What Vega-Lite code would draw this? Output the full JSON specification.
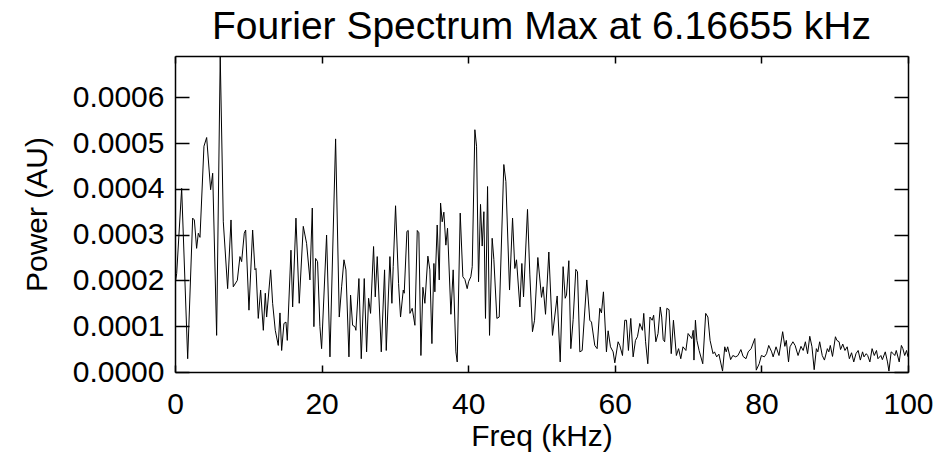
{
  "$schema": "https://vega.github.io/schema/vega-lite/v6.json",
  "width": 733,
  "height": 316,
  "autosize": "none",
  "padding": {"left": 175, "top": 56, "right": 44, "bottom": 81},
  "background": "white",
  "title": {"text": "Fourier Spectrum Max at 6.16655 kHz", "font": "Liberation Sans", "fontSize": 39, "fontWeight": "normal", "color": "black", "anchor": "middle", "offset": 8},
  "config": {"view": {"stroke": null}},
  "data": {"values": [
    {"f":0,"p":0.000190},{"f":0.23,"p":0.000215},{"f":0.91,"p":0.000401},{"f":1.73,"p":0.000029},{"f":2.41,"p":0.000336},{"f":2.64,"p":0.000332},{"f":2.95,"p":0.000270},{"f":3.18,"p":0.000303},{"f":3.41,"p":0.000294},{"f":3.95,"p":0.000493},{"f":4.32,"p":0.000512},{"f":4.86,"p":0.000398},{"f":5.14,"p":0.000434},{"f":5.68,"p":0.000080},{"f":6.17,"p":0.000690},{"f":6.59,"p":0.000328},{"f":7.18,"p":0.000182},{"f":7.64,"p":0.000332},{"f":7.95,"p":0.000186},{"f":8.5,"p":0.000200},{"f":8.86,"p":0.000252},{"f":9.09,"p":0.000241},{"f":9.45,"p":0.000303},{"f":9.64,"p":0.000310},{"f":10.09,"p":0.000135},{"f":10.59,"p":0.000310},{"f":10.91,"p":0.000223},{"f":11.05,"p":0.000226},{"f":11.36,"p":0.000117},{"f":11.68,"p":0.000179},{"f":12.05,"p":0.000091},{"f":12.32,"p":0.000172},{"f":12.5,"p":0.000120},{"f":13.05,"p":0.000223},{"f":13.32,"p":0.000150},{"f":13.68,"p":0.000091},{"f":14.09,"p":0.000058},{"f":14.32,"p":0.000129},{"f":14.55,"p":0.000047},{"f":14.86,"p":0.000106},{"f":15.14,"p":0.000109},{"f":15.32,"p":0.000069},{"f":15.82,"p":0.000266},{"f":16.05,"p":0.000142},{"f":16.5,"p":0.000336},{"f":16.95,"p":0.000150},{"f":17.5,"p":0.000318},{"f":17.95,"p":0.000281},{"f":18.41,"p":0.000201},{"f":18.73,"p":0.000358},{"f":18.95,"p":0.000099},{"f":19.18,"p":0.000248},{"f":19.45,"p":0.000241},{"f":19.77,"p":0.000099},{"f":20.0,"p":0.000051},{"f":20.68,"p":0.000299},{"f":21.14,"p":0.000033},{"f":21.91,"p":0.000509},{"f":22.41,"p":0.000120},{"f":22.73,"p":0.000186},{"f":23.05,"p":0.000245},{"f":23.32,"p":0.000223},{"f":23.73,"p":0.000033},{"f":23.95,"p":0.000168},{"f":24.23,"p":0.000102},{"f":24.55,"p":0.000099},{"f":24.68,"p":0.000091},{"f":25.09,"p":0.000204},{"f":25.41,"p":0.000029},{"f":25.82,"p":0.000204},{"f":26.14,"p":0.000044},{"f":26.41,"p":0.000161},{"f":26.68,"p":0.000128},{"f":27.09,"p":0.000274},{"f":27.32,"p":0.000164},{"f":27.59,"p":0.000252},{"f":28.14,"p":0.000044},{"f":28.59,"p":0.000223},{"f":28.82,"p":0.000047},{"f":29.32,"p":0.000252},{"f":29.59,"p":0.000150},{"f":29.77,"p":0.000230},{"f":30.09,"p":0.000363},{"f":30.5,"p":0.000193},{"f":30.77,"p":0.000120},{"f":31.14,"p":0.000179},{"f":31.27,"p":0.000172},{"f":31.64,"p":0.000307},{"f":31.82,"p":0.000309},{"f":32.05,"p":0.000128},{"f":32.36,"p":0.000139},{"f":32.73,"p":0.000102},{"f":33.05,"p":0.000309},{"f":33.27,"p":0.000304},{"f":33.55,"p":0.000036},{"f":33.82,"p":0.000185},{"f":34.09,"p":0.000150},{"f":34.5,"p":0.000253},{"f":34.77,"p":0.000223},{"f":35.05,"p":0.000062},{"f":35.32,"p":0.000237},{"f":35.45,"p":0.000175},{"f":35.77,"p":0.000321},{"f":36.05,"p":0.000201},{"f":36.23,"p":0.000369},{"f":36.45,"p":0.000328},{"f":36.68,"p":0.000349},{"f":36.95,"p":0.000277},{"f":37.18,"p":0.000314},{"f":37.64,"p":0.000126},{"f":37.95,"p":0.000223},{"f":38.32,"p":0.000044},{"f":38.5,"p":0.000022},{"f":38.91,"p":0.000347},{"f":39.27,"p":0.000208},{"f":39.55,"p":0.000202},{"f":39.86,"p":0.000182},{"f":40.05,"p":0.000197},{"f":40.36,"p":0.000208},{"f":40.55,"p":0.000230},{"f":40.91,"p":0.000529},{"f":41.14,"p":0.000493},{"f":41.41,"p":0.000197},{"f":41.68,"p":0.000366},{"f":41.91,"p":0.000275},{"f":42.14,"p":0.000350},{"f":42.36,"p":0.000117},{"f":42.64,"p":0.000405},{"f":42.91,"p":0.000080},{"f":43.27,"p":0.000292},{"f":43.5,"p":0.000246},{"f":43.91,"p":0.000117},{"f":44.23,"p":0.000120},{"f":44.86,"p":0.000453},{"f":45.14,"p":0.000416},{"f":45.64,"p":0.000179},{"f":46.05,"p":0.000336},{"f":46.36,"p":0.000226},{"f":46.59,"p":0.000245},{"f":47.05,"p":0.000142},{"f":47.32,"p":0.000237},{"f":47.55,"p":0.000164},{"f":48.09,"p":0.000355},{"f":48.41,"p":0.000212},{"f":48.77,"p":0.000088},{"f":49.05,"p":0.000113},{"f":49.5,"p":0.000250},{"f":50.0,"p":0.000163},{"f":50.23,"p":0.000186},{"f":50.55,"p":0.000126},{"f":51.0,"p":0.000262},{"f":51.5,"p":0.000080},{"f":52.14,"p":0.000166},{"f":52.55,"p":0.000022},{"f":52.95,"p":0.000230},{"f":53.23,"p":0.000161},{"f":53.41,"p":0.000168},{"f":53.73,"p":0.000243},{"f":54.0,"p":0.000051},{"f":54.32,"p":0.000115},{"f":54.68,"p":0.000224},{"f":54.91,"p":0.000219},{"f":55.23,"p":0.000044},{"f":55.55,"p":0.000047},{"f":56.18,"p":0.000201},{"f":56.59,"p":0.000113},{"f":56.82,"p":0.000109},{"f":57.27,"p":0.000058},{"f":57.59,"p":0.000051},{"f":57.95,"p":0.000139},{"f":58.18,"p":0.000129},{"f":58.45,"p":0.000175},{"f":58.86,"p":0.000044},{"f":59.09,"p":0.000090},{"f":59.41,"p":0.000055},{"f":59.77,"p":0.000044},{"f":60.0,"p":0.000020},{"f":60.45,"p":0.000066},{"f":60.68,"p":0.000058},{"f":61.05,"p":0.000036},{"f":61.36,"p":0.000113},{"f":61.59,"p":0.000113},{"f":61.86,"p":0.000047},{"f":62.18,"p":0.000117},{"f":62.5,"p":0.000033},{"f":62.82,"p":0.000069},{"f":63.09,"p":0.000077},{"f":63.41,"p":0.000106},{"f":63.77,"p":0.000091},{"f":63.95,"p":0.000128},{"f":64.2,"p":0.000066},{"f":64.5,"p":0.000018},{"f":64.8,"p":0.000120},{"f":65.1,"p":0.000113},{"f":65.3,"p":0.000124},{"f":65.6,"p":0.000066},{"f":65.9,"p":0.000084},{"f":66.2,"p":0.000142},{"f":66.4,"p":0.000120},{"f":66.6,"p":0.000071},{"f":66.8,"p":0.000066},{"f":67.1,"p":0.000139},{"f":67.4,"p":0.000136},{"f":67.7,"p":0.000040},{"f":68.0,"p":0.000113},{"f":68.4,"p":0.000036},{"f":68.7,"p":0.000051},{"f":69.0,"p":0.000029},{"f":69.3,"p":0.000055},{"f":69.7,"p":0.000047},{"f":70.0,"p":0.000084},{"f":70.5,"p":0.000073},{"f":70.7,"p":0.000091},{"f":70.8,"p":0.000026},{"f":71.0,"p":0.000113},{"f":71.2,"p":0.000069},{"f":71.5,"p":0.000047},{"f":72.0,"p":0.000018},{"f":72.4,"p":0.000128},{"f":72.7,"p":0.000120},{"f":73.0,"p":0.000069},{"f":73.4,"p":0.000040},{"f":73.6,"p":0.000044},{"f":73.9,"p":0.000033},{"f":74.2,"p":0.000039},{"f":74.7,"p":0.000002},{"f":75.0,"p":0.000055},{"f":75.2,"p":0.000044},{"f":75.4,"p":0.000055},{"f":75.8,"p":0.000027},{"f":76.1,"p":0.000036},{"f":76.5,"p":0.000033},{"f":76.8,"p":0.000036},{"f":77.2,"p":0.000049},{"f":77.5,"p":0.000034},{"f":77.9,"p":0.000029},{"f":78.2,"p":0.000044},{"f":78.6,"p":0.000051},{"f":79.1,"p":0.000073},{"f":79.3,"p":0.000004},{"f":79.7,"p":0.000018},{"f":80.0,"p":0.000036},{"f":80.4,"p":0.000033},{"f":80.7,"p":0.000040},{"f":81.0,"p":0.000058},{"f":81.4,"p":0.000044},{"f":81.6,"p":0.000033},{"f":82.0,"p":0.000055},{"f":82.4,"p":0.000036},{"f":82.9,"p":0.000088},{"f":83.2,"p":0.000056},{"f":83.4,"p":0.000069},{"f":83.7,"p":0.000022},{"f":83.9,"p":0.000055},{"f":84.3,"p":0.000066},{"f":84.6,"p":0.000058},{"f":85.0,"p":0.000036},{"f":85.4,"p":0.000056},{"f":85.7,"p":0.000047},{"f":86.0,"p":0.000066},{"f":86.3,"p":0.000040},{"f":86.6,"p":0.000078},{"f":86.9,"p":0.000055},{"f":87.2,"p":0.000005},{"f":87.5,"p":0.000051},{"f":87.7,"p":0.000044},{"f":87.95,"p":0.000066},{"f":88.3,"p":0.000036},{"f":88.6,"p":0.000026},{"f":89.0,"p":0.000051},{"f":89.2,"p":0.000044},{"f":89.4,"p":0.000058},{"f":89.7,"p":0.000034},{"f":90.1,"p":0.000077},{"f":90.3,"p":0.000069},{"f":90.6,"p":0.000066},{"f":90.8,"p":0.000049},{"f":91.1,"p":0.000061},{"f":91.4,"p":0.000047},{"f":91.7,"p":0.000055},{"f":92.0,"p":0.000029},{"f":92.3,"p":0.000042},{"f":92.6,"p":0.000022},{"f":92.9,"p":0.000040},{"f":93.2,"p":0.000047},{"f":93.5,"p":0.000026},{"f":93.8,"p":0.000044},{"f":94.0,"p":0.000033},{"f":94.3,"p":0.000040},{"f":94.5,"p":0.000036},{"f":94.8,"p":0.000022},{"f":95.1,"p":0.000051},{"f":95.4,"p":0.000036},{"f":95.7,"p":0.000047},{"f":95.9,"p":0.000029},{"f":96.3,"p":0.000036},{"f":96.5,"p":0.000027},{"f":96.9,"p":0.000044},{"f":97.2,"p":0.000022},{"f":97.4,"p":0.000002},{"f":97.7,"p":0.000044},{"f":98.0,"p":0.000040},{"f":98.2,"p":0.000036},{"f":98.4,"p":0.000047},{"f":98.8,"p":0.000022},{"f":99.1,"p":0.000058},{"f":99.3,"p":0.000051},{"f":99.55,"p":0.000036},{"f":99.8,"p":0.000047},{"f":100,"p":0.000033}
  ]},
  "layer": [
    {
      "mark": {"type": "line", "color": "black", "strokeWidth": 1, "clip": true, "interpolate": "linear"},
      "encoding": {
        "x": {"field": "f", "type": "quantitative", "scale": {"domain": [0, 100], "nice": false, "zero": false},
          "axis": {"orient": "bottom", "values": [0, 20, 40, 60, 80, 100], "format": "d", "title": "Freq (kHz)", "grid": false,
            "domain": true, "domainColor": "black", "domainWidth": 1.5, "ticks": true, "tickColor": "black", "tickWidth": 1.5, "tickSize": -7,
            "labelFont": "Liberation Sans", "labelFontSize": 30, "labelColor": "black", "labelPadding": 24, "labelFlush": false,
            "titleFont": "Liberation Sans", "titleFontSize": 30, "titleFontWeight": "normal", "titleColor": "black", "titlePadding": 2}},
        "y": {"field": "p", "type": "quantitative", "scale": {"domain": [0, 0.00069], "nice": false},
          "axis": {"orient": "left", "values": [0, 0.0001, 0.0002, 0.0003, 0.0004, 0.0005, 0.0006], "format": ".4f", "title": "Power (AU)", "grid": false,
            "domain": true, "domainColor": "black", "domainWidth": 1.5, "ticks": true, "tickColor": "black", "tickWidth": 1.5, "tickSize": -14,
            "labelFont": "Liberation Sans", "labelFontSize": 30, "labelColor": "black", "labelPadding": 25, "labelFlush": false,
            "titleFont": "Liberation Sans", "titleFontSize": 30, "titleFontWeight": "normal", "titleColor": "black", "titlePadding": 20}}
      }
    },
    {
      "mark": {"type": "line", "opacity": 0},
      "encoding": {
        "x": {"field": "f", "type": "quantitative",
          "axis": {"orient": "top", "values": [0, 20, 40, 60, 80, 100], "labels": false, "title": null, "grid": false,
            "domain": true, "domainColor": "black", "domainWidth": 1.5, "ticks": true, "tickColor": "black", "tickWidth": 1.5, "tickSize": -7}},
        "y": {"field": "p", "type": "quantitative",
          "axis": {"orient": "right", "values": [0, 0.0001, 0.0002, 0.0003, 0.0004, 0.0005, 0.0006], "labels": false, "title": null, "grid": false,
            "domain": true, "domainColor": "black", "domainWidth": 1.5, "ticks": true, "tickColor": "black", "tickWidth": 1.5, "tickSize": -14}}
      }
    }
  ],
  "resolve": {"axis": {"x": "independent", "y": "independent"}}
}
